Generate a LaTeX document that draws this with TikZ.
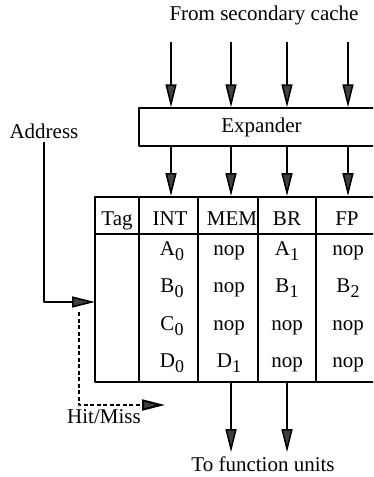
\documentclass[tikz,border=0pt]{standalone}
\usepackage{fontspec}
\setmainfont{Liberation Serif}
\usetikzlibrary{arrows.meta}
\newcommand{\lowsub}[1]{\raisebox{-5pt}{\fontsize{18}{18}\selectfont #1}}
\begin{document}
\begin{tikzpicture}[x=1pt, y=-1pt, font=\fontsize{21}{24}\selectfont, line width=1.5pt, line join=round,
		>={Triangle[length=23pt,width=11pt,fill=black!75]},
		cell/.style={anchor=base},
		hitline/.style={line width=2pt, dash pattern=on 4pt off 2.5pt}]
			\useasboundingbox (0,0) rectangle (373,477);
			\clip (0,0) rectangle (373,477);
			% expander and cache table
			\node[draw, minimum width=245pt, minimum height=38pt, inner sep=0pt] (exp) at (261.5,127) {Expander};
			\node[draw, line width=2pt, minimum width=285pt, minimum height=185pt, inner sep=0pt] (tbl) at (237.5,289.5) {};
			\draw[line width=2pt] (95,234) -- (380,234);
			\draw[line width=1.8pt] (139,197) -- (139,382) (198,197) -- (198,382) (258,197) -- (258,382) (316,197) -- (316,382);
			% column positions
			\coordinate (c1) at (171,42); \coordinate (c2) at (231,42);
			\coordinate (c3) at (287,42); \coordinate (c4) at (348,42);
			\node (src) at (264,15) {From secondary cache};
			\draw[->] (c1) -- (c1 |- exp.north);
			\draw[->] (c2) -- (c2 |- exp.north);
			\draw[->] (c3) -- (c3 |- exp.north);
			\draw[->] (c4) -- (c4 |- exp.north);
			\draw[->] (c1 |- exp.south) -- (c1 |- tbl.north);
			\draw[->] (c2 |- exp.south) -- (c2 |- tbl.north);
			\draw[->] (c3 |- exp.south) -- (c3 |- tbl.north);
			\draw[->] (c4 |- exp.south) -- (c4 |- tbl.north);
			% header
			\node[cell] (tag) at (117,225) {Tag};
			\node[cell] (int) at (170,225) {INT};
			\node[cell] (mem) at (232,225) {MEM};
			\node[cell] (br) at (287,225) {BR};
			\node[cell] (fp) at (347,225) {FP};
			% entries
			\node[cell] (a0) at (172,255) {A\lowsub{0}};
			\node[cell] (m1) at (229,255) {nop};
			\node[cell] (a1) at (287,255) {A\lowsub{1}};
			\node[cell] (f1) at (348,255) {nop};
			\node[cell] (b0) at (172,292) {B\lowsub{0}};
			\node[cell] (m2) at (229,292) {nop};
			\node[cell] (b1) at (287,292) {B\lowsub{1}};
			\node[cell] (b2) at (348,292) {B\lowsub{2}};
			\node[cell] (c0) at (172,330) {C\lowsub{0}};
			\node[cell] (m3) at (229,330) {nop};
			\node[cell] (r3) at (287,330) {nop};
			\node[cell] (f3) at (348,330) {nop};
			\node[cell] (d0) at (172,367) {D\lowsub{0}};
			\node[cell] (d1) at (229,367) {D\lowsub{1}};
			\node[cell] (r4) at (287,367) {nop};
			\node[cell] (f4) at (348,367) {nop};
			% address and hit/miss
			\node[cell] (addr) at (44,138) {Address};
			\coordinate (tagin) at (95,302);
			\draw[->] (addr.south) |- (tagin);
			\coordinate (hm) at (79,312);
			\coordinate (hmend) at (165,405);
			\draw[->, hitline] (hm) |- (hmend);
			\node[cell] (hitmiss) at (104,423) {Hit/Miss};
			% to function units
			\node[cell] (fu) at (263,471) {To function units};
			\draw[->] (c2 |- tbl.south) -- (c2 |- fu.north);
			\draw[->] (c3 |- tbl.south) -- (c3 |- fu.north);
		\end{tikzpicture}
\end{document}
